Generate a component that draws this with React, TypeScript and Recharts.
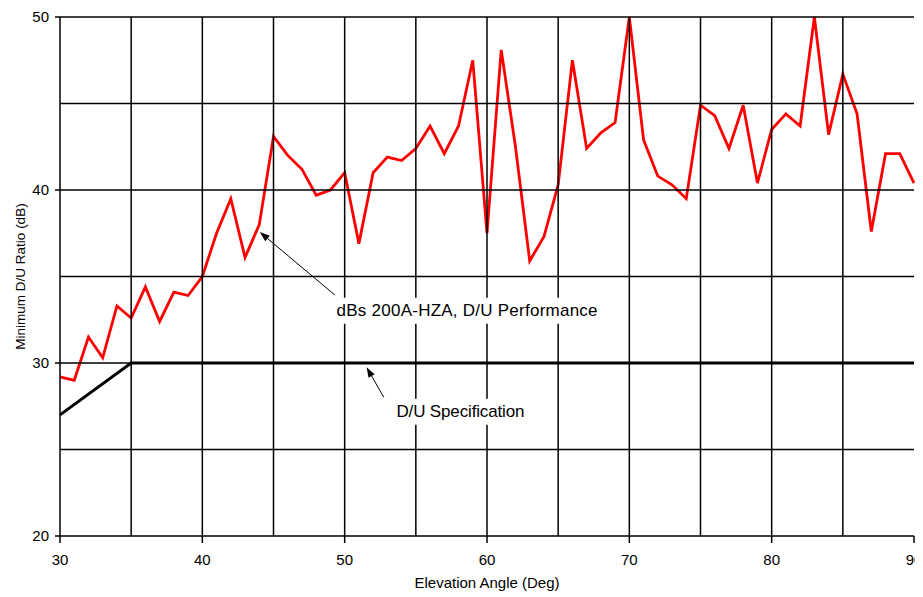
import React from 'react';
import { LineChart, Line, XAxis, YAxis, ReferenceLine, ReferenceDot, Label } from 'recharts';

// Elevation angle (deg) and measured minimum D/U ratio (dB)
const angles = [
  30, 31, 32, 33, 34, 35, 36, 37, 38, 39,
  40, 41, 42, 43, 44, 45, 46, 47, 48, 49,
  50, 51, 52, 53, 54, 55, 56, 57, 58, 59,
  60, 61, 62, 63, 64, 65, 66, 67, 68, 69,
  70, 71, 72, 73, 74, 75, 76, 77, 78, 79,
  80, 81, 82, 83, 84, 85, 86, 87, 88, 89,
  90,
];
const performance = [
  29.2, 29.0, 31.5, 30.3, 33.3, 32.6, 34.4, 32.4, 34.1, 33.9,
  35.0, 37.5, 39.5, 36.1, 38.0, 43.1, 42.0, 41.2, 39.7, 40.0,
  41.0, 36.9, 41.0, 41.9, 41.7, 42.4, 43.7, 42.1, 43.7, 47.5,
  37.5, 48.1, 42.5, 35.9, 37.3, 40.3, 47.5, 42.4, 43.3, 43.9,
  50.0, 42.9, 40.8, 40.3, 39.5, 44.9, 44.3, 42.4, 44.9, 40.4,
  43.5, 44.4, 43.7, 50.0, 43.2, 46.7, 44.4, 37.6, 42.1, 42.1,
  40.4,
];

// D/U specification
const specAngles = [30, 35, 90];
const specValues = [27, 30, 30];

// Axis ticks and grid
const xTicks = [30, 40, 50, 60, 70, 80, 90];
const yTicks = [20, 30, 40, 50];
const xGrid = [35, 40, 45, 50, 55, 60, 65, 70, 75, 80, 85];
const yGrid = [25, 30, 35, 40, 45, 50];

// Annotations (data coordinates)
const perfLabel = 'dBs 200A-HZA, D/U Performance';
const perfLabelPos = { x: 49.43, y: 33.02 };
const perfArrow = [{ x: 49.31, y: 33.93 }, { x: 44.04, y: 37.57 }];
const specLabel = 'D/U Specification';
const specLabelPos = { x: 53.64, y: 27.18 };
const specArrow = [{ x: 52.75, y: 28.02 }, { x: 51.54, y: 29.75 }];

const perfData = angles.map((x, i) => ({ x, y: performance[i] }));
const specData = specAngles.map((x, i) => ({ x, y: specValues[i] }));

if (typeof document !== 'undefined') {
  document.documentElement.style.overflow = 'hidden';
  document.body.style.overflow = 'hidden';
}

const FONT = '"Liberation Sans", Arial, sans-serif';

const Arrow = (p: any) => {
  const { x1, y1, x2, y2 } = p;
  const dx = x2 - x1;
  const dy = y2 - y1;
  const len = Math.hypot(dx, dy) || 1;
  const ux = dx / len;
  const uy = dy / len;
  const L = 10;
  const W = 3.5;
  const bx = x2 - ux * L;
  const by = y2 - uy * L;
  const pts = `${x2},${y2} ${bx - uy * W},${by + ux * W} ${bx + uy * W},${by - ux * W}`;
  return (
    <g>
      <line x1={x1} y1={y1} x2={bx} y2={by} stroke="#000" strokeWidth={1} />
      <polygon points={pts} fill="#000" />
    </g>
  );
};

const makeLabel = (text: string, len: number) => (p: any) => {
  const { cx, cy } = p;
  return (
    <g>
      <rect x={cx - 4} y={cy - 13} width={len + 8} height={26} fill="#fff" />
      <text
        x={cx}
        y={cy}
        dominantBaseline="central"
        fontFamily={FONT}
        fontSize={17}
        fill="#000"
        textLength={len}
        lengthAdjust="spacing"
      >
        {text}
      </text>
    </g>
  );
};

export default function App() {
  return (
    <LineChart
      width={930}
      height={586}
      margin={{ top: 9, right: 24, left: 12, bottom: 0 }}
      style={{ fontFamily: FONT, background: '#fff', overflow: 'visible' }}
    >
      <XAxis
        dataKey="x"
        type="number"
        domain={[30, 90]}
        ticks={xTicks}
        interval={0}
        height={58}
        tickSize={7}
        tickMargin={11}
        axisLine={{ stroke: '#000', strokeWidth: 1.5 }}
        tickLine={{ stroke: '#000', strokeWidth: 1.5 }}
        tick={{ fill: '#000', fontSize: 15, fontFamily: FONT }}
      >
        <Label
          value="Elevation Angle (Deg)"
          position="insideBottom"
          offset={6}
          style={{ fill: '#000', fontSize: 15, fontFamily: FONT }}
        />
      </XAxis>
      <YAxis
        type="number"
        domain={[20, 50]}
        ticks={yTicks}
        interval={0}
        width={40}
        tickSize={5}
        tickMargin={6}
        axisLine={{ stroke: '#000', strokeWidth: 1.5 }}
        tickLine={{ stroke: '#000', strokeWidth: 1.5 }}
        tick={{ fill: '#000', fontSize: 15, fontFamily: FONT }}
      >
        <Label
          value="Minimum D/U Ratio (dB)"
          angle={-90}
          position="insideLeft"
          offset={0}
          style={{ fill: '#000', fontSize: 13.5, fontFamily: FONT, textAnchor: 'middle' }}
        />
      </YAxis>

      <Line
        data={perfData}
        dataKey="y"
        type="linear"
        stroke="#ff0000"
        strokeWidth={2.8}
        dot={false}
        activeDot={false}
        isAnimationActive={false}
      />
      <Line
        data={specData}
        dataKey="y"
        type="linear"
        stroke="#000"
        strokeWidth={3}
        dot={false}
        activeDot={false}
        isAnimationActive={false}
      />

      {xGrid.map((v) => (
        <ReferenceLine key={`gx${v}`} x={v} stroke="#000" strokeWidth={1.5} zIndex={450} />
      ))}
      {yGrid.map((v) => (
        <ReferenceLine key={`gy${v}`} y={v} stroke="#000" strokeWidth={1.5} zIndex={450} />
      ))}

      <ReferenceLine segment={perfArrow} shape={Arrow} zIndex={460} />
      <ReferenceLine segment={specArrow} shape={Arrow} zIndex={460} />
      <ReferenceDot
        x={perfLabelPos.x}
        y={perfLabelPos.y}
        r={0}
        shape={makeLabel(perfLabel, 261)}
        zIndex={470}
      />
      <ReferenceDot
        x={specLabelPos.x}
        y={specLabelPos.y}
        r={0}
        shape={makeLabel(specLabel, 128)}
        zIndex={470}
      />
    </LineChart>
  );
}
